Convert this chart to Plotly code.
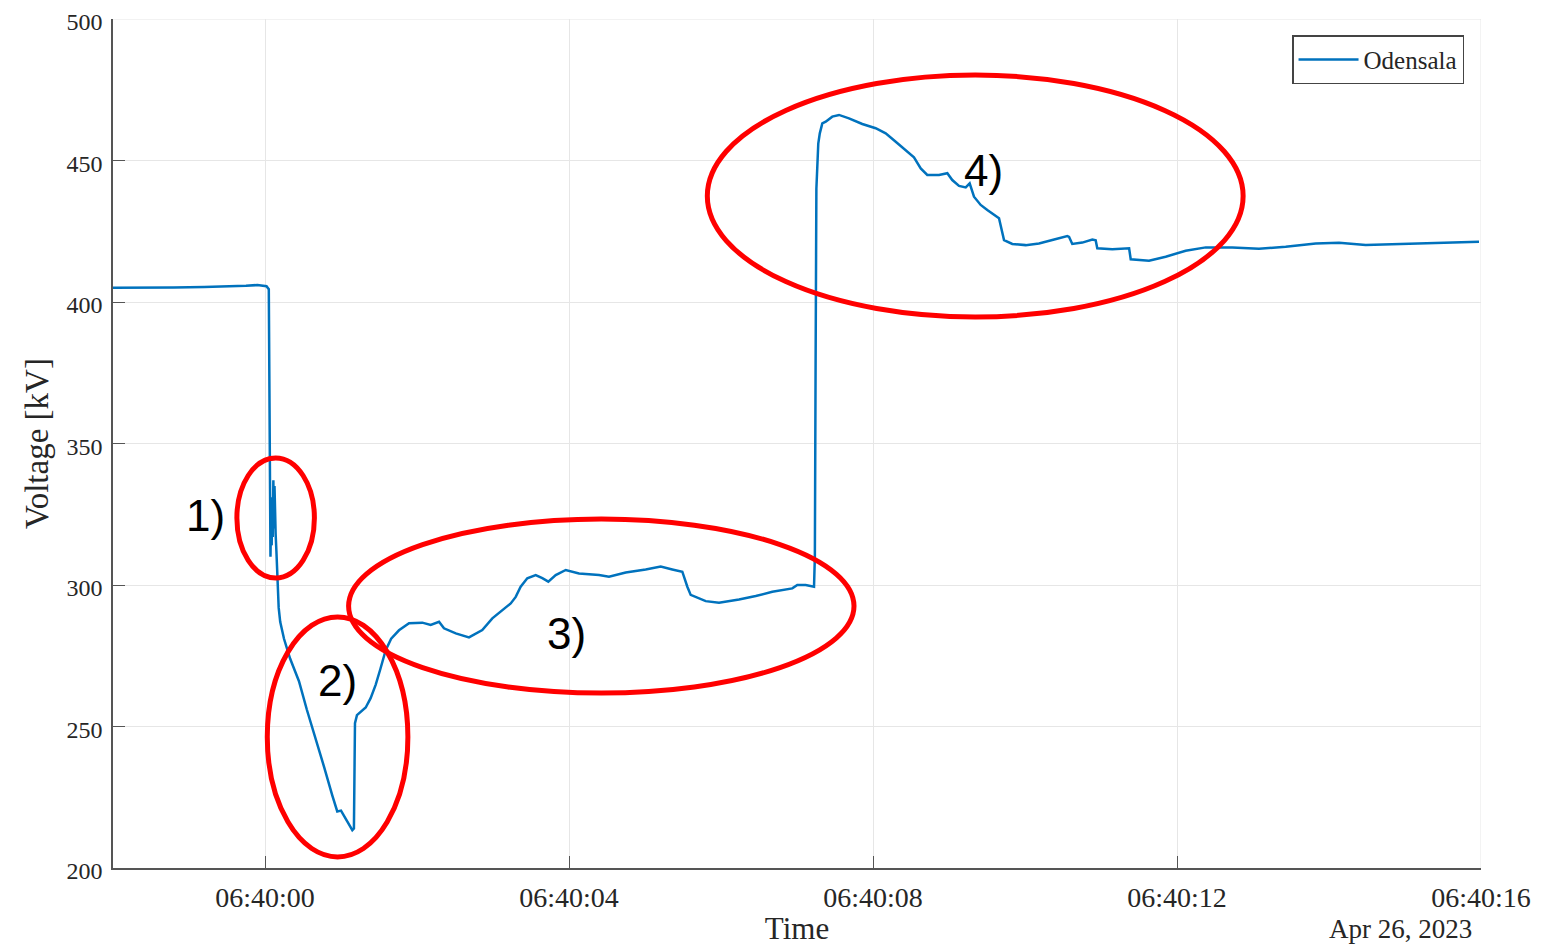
import pandas as pd
import plotly.graph_objects as go

# ---------------- data (seconds relative to 06:40:00, voltage in kV) ----------------
base_time = "2023-04-26 06:40:00"

t_sec = [
    -2.01, -1.6, -1.2, -0.8, -0.5, -0.25, -0.1, 0.02, 0.05,
    0.065, 0.072, 0.08, 0.088, 0.095, 0.102, 0.11, 0.118, 0.125, 0.132, 0.14,
    0.15, 0.165, 0.18, 0.2, 0.23, 0.25,
    0.33, 0.447, 0.55, 0.667, 0.78, 0.886, 0.951, 1.0, 1.062, 1.11, 1.149, 1.17,
    1.184, 1.21, 1.27, 1.325, 1.39, 1.457, 1.52, 1.588, 1.66, 1.763, 1.895,
    2.07, 2.18, 2.29, 2.355, 2.51, 2.684, 2.859, 2.991, 3.122, 3.233, 3.299,
    3.364, 3.451, 3.562, 3.649, 3.728, 3.825, 3.957, 4.132, 4.395, 4.526,
    4.746, 5.009, 5.207, 5.359, 5.491, 5.557, 5.601, 5.799, 5.974, 6.237,
    6.457, 6.675, 6.851, 6.938, 7.004, 7.114, 7.224,
    7.235, 7.245, 7.255, 7.28, 7.30, 7.333, 7.378, 7.464, 7.553, 7.684,
    7.859, 8.035, 8.167, 8.299, 8.43, 8.539, 8.628, 8.714, 8.868, 8.978,
    9.043, 9.132, 9.22, 9.272, 9.329, 9.417, 9.504, 9.592, 9.658, 9.724,
    9.833, 10.009, 10.184, 10.359, 10.557, 10.58, 10.622, 10.754, 10.886, 10.93, 10.951,
    11.149, 11.325, 11.37, 11.391, 11.632, 11.851, 12.114, 12.378, 12.728,
    13.079, 13.43, 13.825, 14.132, 14.483, 14.921, 15.359, 15.974,
]

kv = [
    405.0, 405.0, 405.1, 405.3, 405.4, 405.7, 406.0, 405.6, 404.5,
    345.0, 310.0, 326.0, 314.0, 331.0, 317.0, 337.0, 320.0, 335.0, 321.0, 318.0,
    312.0, 300.0, 292.0, 287.0, 283.0, 281.0,
    274.0, 266.0, 256.0, 246.0, 235.5, 225.6, 220.0, 220.3, 217.5, 215.5, 213.4, 214.0,
    251.2, 254.0, 255.5, 256.7, 260.0, 264.8, 270.5, 277.0, 281.0, 284.0, 286.5,
    286.7, 285.9, 287.0, 284.7, 282.9, 281.5, 284.1, 288.2, 291.1, 293.5, 295.8,
    299.4, 302.4, 303.5, 302.4, 301.2, 303.5, 305.3, 304.1, 303.5, 302.9,
    304.4, 305.5, 306.5, 305.5, 304.7, 299.4, 296.5, 294.3, 293.7, 294.9,
    296.1, 297.6, 298.5, 298.8, 300.0, 300.0, 299.4,
    310.0, 380.0, 440.0, 456.0, 459.6, 463.1, 463.7, 465.5, 466.1, 464.9,
    462.9, 461.4, 459.6, 456.6, 453.7, 451.1, 447.2, 444.9, 444.9, 445.5,
    443.1, 441.0, 440.5, 441.9, 437.2, 434.3, 432.5, 430.7, 429.6, 421.9,
    420.5, 420.1, 420.7, 421.9, 423.3, 423.0, 420.5, 421.0, 422.1, 421.8, 419.0,
    418.6, 419.0, 419.0, 415.1, 414.6, 416.0, 418.1, 419.3, 419.3,
    418.8, 419.5, 420.7, 420.9, 420.1, 420.5, 420.9, 421.3,
]

series_name = "Odensala"
x_range_sec = [-2.0, 16.0]
x_tick_sec = [0, 4, 8, 12, 16]
x_tick_labels = ["06:40:00", "06:40:04", "06:40:08", "06:40:12", "06:40:16"]
y_range = [200, 500]
y_ticks = [200, 250, 300, 350, 400, 450, 500]
date_label = "Apr 26, 2023"

# highlighted regions (t0, t1, v0, v1) and their labels (text, t, v)
ellipse_t0 = [-0.37, 0.03, 1.10, 5.82]
ellipse_t1 = [0.65, 1.88, 7.75, 12.87]
ellipse_v0 = [302.5, 203.9, 261.8, 394.7]
ellipse_v1 = [344.9, 288.7, 323.3, 480.2]
region_labels = ["1)", "2)", "3)", "4)"]
region_label_t = [-0.78, 0.95, 3.97, 9.45]
region_label_v = [324.7, 266.4, 283.0, 446.6]

# ---------------- build ----------------
base = pd.Timestamp(base_time)


def to_time(s):
    return base + pd.to_timedelta(s, unit="s")


x_vals = [to_time(s) for s in t_sec]
grid_col = "#E6E6E6"

fig = go.Figure()
fig.add_trace(go.Scatter(
    x=x_vals, y=kv, mode="lines", name=series_name,
    line=dict(color="#0072BD", width=2.5),
))

# grid lines at the upper and right edges of the axes (Plotly drops edge grid lines)
fig.add_shape(type="line", xref="paper", yref="y", x0=0, x1=1,
              y0=y_range[1], y1=y_range[1], line=dict(color=grid_col, width=1),
              layer="below")
fig.add_shape(type="line", xref="x", yref="paper",
              x0=to_time(x_range_sec[1]), x1=to_time(x_range_sec[1]), y0=0, y1=1,
              line=dict(color=grid_col, width=1), layer="below")

for a, b, c, d in zip(ellipse_t0, ellipse_t1, ellipse_v0, ellipse_v1):
    fig.add_shape(type="circle", xref="x", yref="y",
                  x0=to_time(a), x1=to_time(b), y0=c, y1=d,
                  line=dict(color="#FF0000", width=5), layer="above")

for txt, t, v in zip(region_labels, region_label_t, region_label_v):
    fig.add_annotation(x=to_time(t), y=v, xref="x", yref="y", text=txt,
                       showarrow=False,
                       font=dict(family="Liberation Sans", size=44, color="black"))

fig.add_annotation(x=0.995, y=-0.072, xref="paper", yref="paper", text=date_label,
                   showarrow=False, xanchor="right", yanchor="middle",
                   font=dict(family="Liberation Serif", size=27, color="#262626"))

serif = "Liberation Serif"
# the page body adds an 8 px offset, so the figure is 8 px smaller on each axis
fig.update_layout(
    width=1550, height=938,
    margin=dict(l=105, r=77, t=11, b=78, autoexpand=False),
    plot_bgcolor="white", paper_bgcolor="white",
    font=dict(family=serif, color="#262626"),
    showlegend=True,
    legend=dict(x=0.9876, y=0.981, xanchor="right", yanchor="top",
                bgcolor="white", bordercolor="#444444", borderwidth=1.5,
                font=dict(family=serif, size=25, color="#262626"),
                itemwidth=60, tracegroupgap=0),
    xaxis=dict(
        type="date", automargin=False,
        range=[to_time(x_range_sec[0]), to_time(x_range_sec[1])],
        tickvals=[to_time(s) for s in x_tick_sec], ticktext=x_tick_labels,
        showgrid=True, gridcolor=grid_col, gridwidth=1,
        showline=True, linecolor="#555555", linewidth=1.5,
        ticks="inside", ticklen=12, tickcolor="#555555", tickwidth=1.2,
        tickfont=dict(family=serif, size=28, color="#262626"),
        ticklabelstandoff=4, ticklabeloverflow="allow",
        title=dict(text="Time", font=dict(family=serif, size=31, color="#262626"),
                   standoff=2),
        zeroline=False,
    ),
    yaxis=dict(
        automargin=False,
        range=y_range, tickvals=y_ticks,
        showgrid=True, gridcolor=grid_col, gridwidth=1,
        showline=True, linecolor="#555555", linewidth=1.5,
        ticks="inside", ticklen=12, tickcolor="#555555", tickwidth=1.2,
        tickfont=dict(family=serif, size=24, color="#262626"),
        ticklabelstandoff=4, ticklabeloverflow="allow", ticklabelshift=3,
        title=dict(text="Voltage [kV]", font=dict(family=serif, size=33, color="#262626"),
                   standoff=8),
        zeroline=False,
    ),
)

fig.write_html("out.html")
